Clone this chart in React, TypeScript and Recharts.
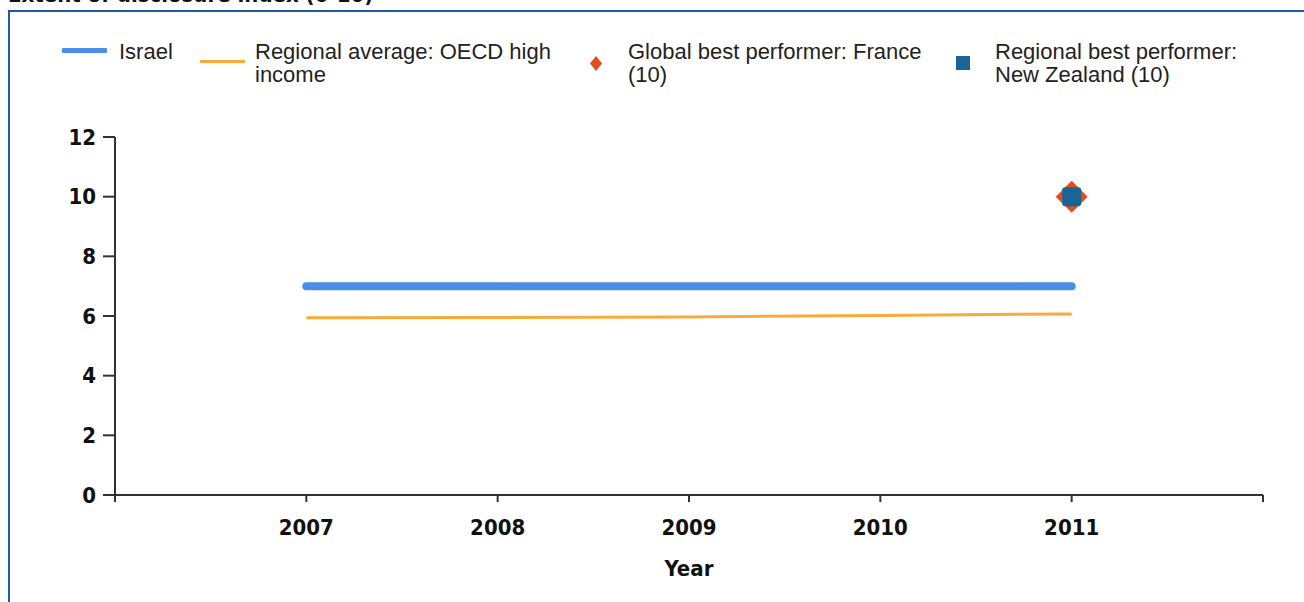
import React from 'react';
import { ComposedChart, Line, Scatter, XAxis, YAxis, Label } from 'recharts';

const years = [2007, 2008, 2009, 2010, 2011];
const israelValues = [7, 7, 7, 7, 7];
const regionalValues = [5.94, 5.95, 5.97, 6.02, 6.07];
const globalBest = [{ year: 2011, value: 10 }];
const regionalBest = [{ year: 2011, value: 10 }];
const xTicks = [2006, 2007, 2008, 2009, 2010, 2011, 2012];
const yTicks = [0, 2, 4, 6, 8, 10, 12];

const COLORS = {
  israel: '#4a8eea',
  regional: '#f8ab3a',
  global: '#e24d1c',
  regionalBest: '#1b6596',
};

const legendItems = [
  { key: 'israel', lines: ['Israel'], type: 'thick', left: 62, textLeft: 119 },
  { key: 'regional', lines: ['Regional average: OECD high', 'income'], type: 'thin', left: 200, textLeft: 255 },
  { key: 'global', lines: ['Global best performer: France', '(10)'], type: 'diamond', left: 589, textLeft: 628 },
  { key: 'regionalBest', lines: ['Regional best performer:', 'New Zealand (10)'], type: 'square', left: 956, textLeft: 995 },
];

const data = years.map((y, i) => ({ year: y, israel: israelValues[i], regional: regionalValues[i] }));

const tickFont = "'DejaVu Sans Condensed', 'DejaVu Sans', sans-serif";

const DiamondShape = (props: any) => {
  const { cx, cy } = props;
  const r = 16;
  return <polygon points={`${cx},${cy - r} ${cx + r},${cy} ${cx},${cy + r} ${cx - r},${cy}`} fill={COLORS.global} />;
};
const SquareShape = (props: any) => {
  const { cx, cy } = props;
  const s = 9.5;
  return <rect x={cx - s} y={cy - s} width={2 * s} height={2 * s} rx={3} fill={COLORS.regionalBest} />;
};

function LegendMarker({ type, color }: { type: string; color: string }) {
  if (type === 'thick') return <div style={{ position: 'absolute', left: 0, top: 48, width: 45, height: 5, background: color, borderRadius: 1 }} />;
  if (type === 'thin') return <div style={{ position: 'absolute', left: 0, top: 60, width: 45, height: 3, background: color }} />;
  if (type === 'diamond')
    return (
      <svg style={{ position: 'absolute', left: 0, top: 56 }} width={14} height={15}>
        <polygon points="7,0 13,7.5 7,15 1,7.5" fill={color} />
      </svg>
    );
  return <div style={{ position: 'absolute', left: 0, top: 56, width: 14, height: 14, background: color }} />;
}

export default function App() {
  return (
    <div style={{ position: 'fixed', left: 0, top: 0, width: 1304, height: 602, overflow: 'hidden', background: '#fff' }}>
      <div
        style={{
          position: 'absolute',
          left: 8,
          top: -18,
          fontFamily: tickFont,
          fontWeight: 'bold',
          fontSize: 22,
          color: '#111',
          whiteSpace: 'nowrap',
          lineHeight: '26px',
        }}
      >
        Extent of disclosure index (0-10)
      </div>
      <div style={{ position: 'absolute', left: 8, top: 10, width: 1400, height: 700, border: '2px solid #1f5ba3', boxSizing: 'border-box' }} />
      {legendItems.map((it) => (
        <React.Fragment key={it.key}>
          <div style={{ position: 'absolute', left: it.left, top: 0 }}>
            <LegendMarker type={it.type} color={(COLORS as any)[it.key]} />
          </div>
          <div
            style={{
              position: 'absolute',
              left: it.textLeft,
              top: 40,
              fontFamily: "'Liberation Sans', Arial, sans-serif",
              fontSize: 22,
              lineHeight: '23px',
              color: '#222',
              whiteSpace: 'nowrap',
            }}
          >
            {it.lines.map((l, i) => (
              <div key={i}>{l}</div>
            ))}
          </div>
        </React.Fragment>
      ))}
      <div style={{ position: 'absolute', left: 0, top: 0 }}>
        <ComposedChart width={1304} height={602} data={data} margin={{ top: 137, right: 41, bottom: 0, left: 0 }}>
          <XAxis
            dataKey="year"
            type="number"
            domain={[2006, 2012]}
            ticks={xTicks}
            allowDataOverflow
            tickFormatter={(v: number) => (v === 2006 || v === 2012 ? '' : String(v))}
            height={107}
            tickSize={7}
            tickMargin={17}
            stroke="#333"
            strokeWidth={2}
            tick={{ fill: '#111', fontFamily: tickFont, fontWeight: 'bold', fontSize: 22 }}
            interval={0}
          >
            <Label value="Year" position="insideBottom" offset={26} style={{ fill: '#111', fontFamily: tickFont, fontWeight: 'bold', fontSize: 22 }} />
          </XAxis>
          <YAxis
            type="number"
            domain={[0, 12]}
            ticks={yTicks}
            width={115}
            tickSize={12}
            tickMargin={7}
            stroke="#333"
            strokeWidth={2}
            tick={{ fill: '#111', fontFamily: tickFont, fontWeight: 'bold', fontSize: 22 }}
            interval={0}
          />
          <Line dataKey="israel" stroke={COLORS.israel} strokeWidth={8} strokeLinecap="round" dot={false} activeDot={false} isAnimationActive={false} />
          <Line dataKey="regional" stroke={COLORS.regional} strokeWidth={3} dot={false} activeDot={false} isAnimationActive={false} />
          <Scatter data={globalBest} dataKey="value" shape={<DiamondShape />} isAnimationActive={false} />
          <Scatter data={regionalBest} dataKey="value" shape={<SquareShape />} isAnimationActive={false} />
        </ComposedChart>
      </div>
    </div>
  );
}
